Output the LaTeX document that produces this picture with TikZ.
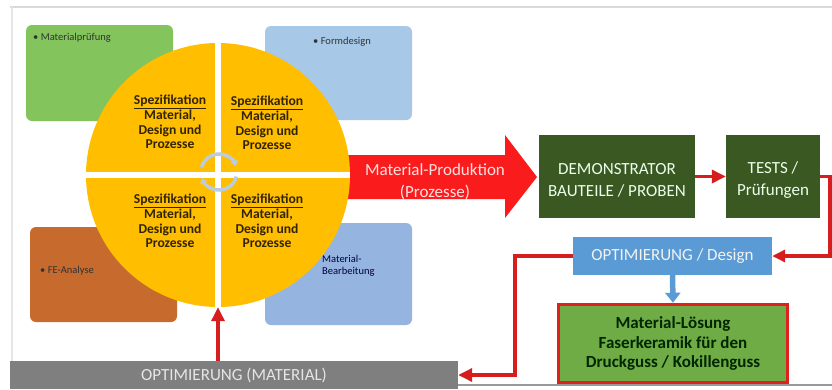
\documentclass[tikz,border=0pt]{standalone}
\usepackage{fontspec}
\setmainfont{Carlito}
\usetikzlibrary{arrows.meta,calc}
\definecolor{boxgreen}{RGB}{132,196,92}
\definecolor{boxblueA}{RGB}{168,200,232}
\definecolor{boxorange}{RGB}{198,106,46}
\definecolor{boxblueB}{RGB}{150,180,224}
\definecolor{gold}{RGB}{255,190,0}
\definecolor{bigred}{RGB}{250,28,28}
\definecolor{darkgreen}{RGB}{58,88,34}
\definecolor{designblue}{RGB}{91,155,213}
\definecolor{solgreen}{RGB}{112,172,70}
\definecolor{solred}{RGB}{224,32,30}
\definecolor{barGray}{RGB}{127,127,127}
\definecolor{connred}{RGB}{214,30,30}
\definecolor{cyc}{RGB}{186,204,226}
\definecolor{smalltext}{RGB}{50,50,50}
\definecolor{quadtext}{RGB}{50,36,0}
\begin{document}
\begin{tikzpicture}[x=1pt,y=-1pt,
  softbox/.style={rounded corners=6pt, inner sep=0pt},
  flatbox/.style={inner sep=0pt, align=center},
  smalllbl/.style={inner sep=0pt, text=smalltext, font=\fontsize{10.5}{12}\selectfont},
  quad/.style={inner sep=0pt, align=center, text=quadtext, font=\bfseries\fontsize{13.6}{14.6}\selectfont},
  bigtxt/.style={font=\fontsize{17}{22}\selectfont},
  conn/.style={draw=connred, line width=3.3pt, -{Triangle[length=14pt,width=13pt]}}
]
\useasboundingbox[fill=white] (0,0) rectangle (832,389);
% frame
\draw[black!15, line width=1.5pt] (10,7) -- (832,7);
\draw[black!10, line width=1.2pt] (12,7) -- (12,389);
\draw[black!40, line width=1.2pt] (458,385) -- (832,385);

% corner boxes
\node[softbox, fill=boxgreen, minimum width=147pt, minimum height=96pt] (mp) at (99.5,73) {};
\node[softbox, fill=boxblueA, minimum width=147pt, minimum height=94pt] (fd) at (338.5,73) {};
\node[softbox, fill=boxorange, minimum width=147pt, minimum height=95pt] (fe) at (103.5,274.5) {};
\node[softbox, fill=boxblueB, minimum width=147pt, minimum height=102pt] (mb) at (338.5,274) {};
\node[smalllbl, anchor=base west] (mpt) at (33,40) {• Materialprüfung};
\node[smalllbl, anchor=base west] (fdt) at (313,44) {• Formdesign};
\node[smalllbl, anchor=base west] (fet) at (40,273) {• FE-Analyse};
\node[smalllbl, anchor=north west, align=left, text=black!75!blue] (mbt) at (322,255) {Material-\\Bearbeitung};

% big red block arrow
\fill[bigred] (345,155) -- (505,155) -- (505,135) -- (537,177) -- (505,218) -- (505,199) -- (345,199) -- cycle;
\node[bigtxt, align=center, text=red!12, inner sep=0pt] (prod) at (435,182) {Material-Produktion\\(Prozesse)};

% circle
\node[circle, fill=gold, minimum size=264pt, inner sep=0pt] (circ) at (218,175) {};
\begin{scope}
  \clip (218,175) circle[radius=132];
  \draw[white, line width=6.5pt] (circ.north) -- (circ.south);
  \draw[white, line width=6.5pt] (circ.west) -- (circ.east);
\end{scope}
\coordinate (cc) at (219,172);
\draw[cyc, line width=3.5pt, -{Triangle[length=5pt,width=8pt]}] ($(cc)+(195:18)$) arc[start angle=195, end angle=340, radius=18];
\draw[cyc, line width=3.5pt, -{Triangle[length=5pt,width=8pt]}] ($(cc)+(15:18)$) arc[start angle=15, end angle=160, radius=18];

\node[quad] (q1) at (170,122) {\underline{Spezifikation}\\Material,\\Design und\\Prozesse};
\node[quad] (q2) at (267,123) {\underline{Spezifikation}\\Material,\\Design und\\Prozesse};
\node[quad] (q3) at (170,221) {\underline{Spezifikation}\\Material,\\Design und\\Prozesse};
\node[quad] (q4) at (267,221) {\underline{Spezifikation}\\Material,\\Design und\\Prozesse};

% right boxes
\node[flatbox, fill=darkgreen, minimum width=156pt, minimum height=83pt] (demo) at (617,176.5) {};
\node[flatbox, text=green!8, bigtxt] (demot) at (617,180) {DEMONSTRATOR\\BAUTEILE / PROBEN};
\node[flatbox, fill=darkgreen, minimum width=94pt, minimum height=83pt] (tests) at (773,176.5) {};
\node[flatbox, text=green!8, bigtxt] (testst) at (773,180) {TESTS /\\Prüfungen};
\node[flatbox, fill=designblue, minimum width=199pt, minimum height=38pt, text=white!95!black, bigtxt] (design) at (672.5,256) {OPTIMIERUNG / Design};
\node[flatbox, fill=solgreen, draw=solred, line width=3.5pt, minimum width=229pt, minimum height=78pt, text=black!85!green, font=\bfseries\fontsize{17}{19.5}\selectfont] (sol) at (673,343.5) {Material-Lösung\\Faserkeramik für den\\Druckguss / Kokillenguss};
\node[flatbox, fill=barGray, minimum width=448pt, minimum height=28pt, text=white!90!black, bigtxt] (bar) at (234,375) {OPTIMIERUNG (MATERIAL)};

% connectors
\draw[conn] (demo.east) -- (tests.west);
\draw[conn, -{Triangle[length=13pt,width=12pt]}] (tests.east) -- (830,176.5) |- (design.east);
\draw[conn] (design.west) -- (515,256) |- (bar.east);
\draw[conn] (bar.north -| circ.south) -- (circ.south);
\draw[designblue, line width=5.5pt, -{Triangle[length=10pt,width=15pt]}] (design.south) -- (sol.north);
\end{tikzpicture}
\end{document}
